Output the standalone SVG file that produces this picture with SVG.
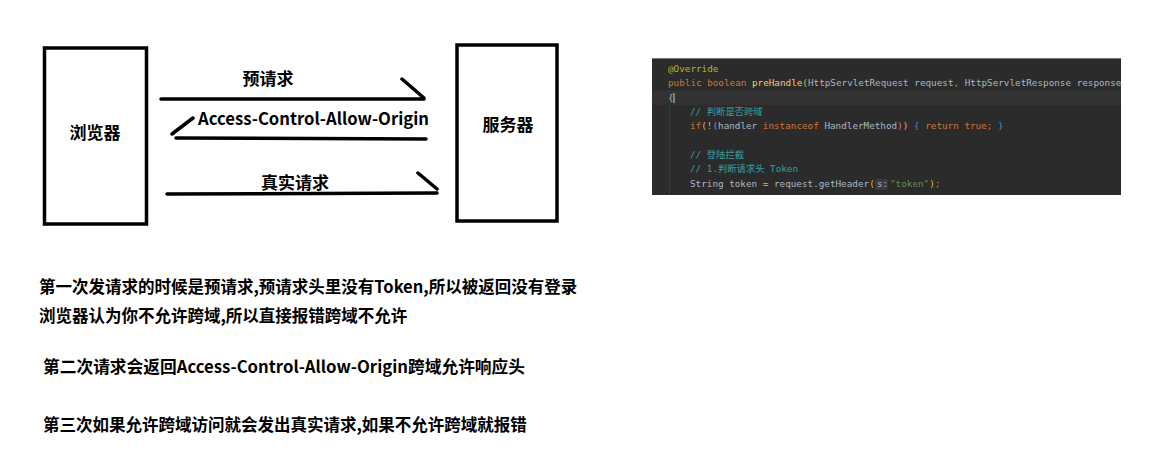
<svg xmlns="http://www.w3.org/2000/svg" width="1170" height="468" viewBox="0 0 1170 468">
<style>
.box{fill:#fff;stroke:#000;stroke-width:3.5}
.ln{stroke:#000;stroke-width:3.5;stroke-linecap:round;fill:none}
.lbl{font-family:"Noto Sans CJK SC","Open Sans",sans-serif;font-weight:bold;font-size:17px;fill:#000}
.note{font-family:"Noto Sans CJK SC","Open Sans",sans-serif;font-weight:bold;font-size:16.5px;fill:#000}
.code{font-family:"DejaVu Sans Mono","Noto Sans CJK SC",monospace;font-size:9.3px;fill:#a9b7c6}
.kw{fill:#cc7832}.an{fill:#bbb529}.fn{fill:#ffc66d}.cm{fill:#3a9ea6}.st{fill:#6a8759}.y{fill:#e8ba36}.p{fill:#c77dbb}.b{fill:#3d8fd1}
</style>
<defs>
<clipPath id="cc"><rect x="652" y="58" width="469" height="137"/></clipPath>
</defs>
<rect width="1170" height="468" fill="#fff"/>
<g id="browser">
<rect class="box" x="44.5" y="48" width="102" height="176"/>
<text class="lbl" x="95" y="139" text-anchor="middle">浏览器</text>
</g>
<g id="server">
<rect class="box" x="457" y="45" width="100" height="176"/>
<text class="lbl" x="508" y="131" text-anchor="middle">服务器</text>
</g>
<g id="connectors">
<path class="ln" d="M161 99 L424 99 M402 79 L424 98"/>
<path class="ln" d="M176 138 L426 139 M172 134 L193 118"/>
<path class="ln" d="M167 194 L437 193 M418 173 L437 189"/>
<text class="lbl" x="268" y="85" text-anchor="middle">预请求</text>
<text class="lbl" x="198" y="125" textLength="231" lengthAdjust="spacingAndGlyphs">Access-Control-Allow-Origin</text>
<text class="lbl" x="295" y="189" text-anchor="middle">真实请求</text>
</g>
<g id="code" clip-path="url(#cc)">
<rect x="652" y="58" width="469" height="137" fill="#2b2b2b"/>
<line x1="652" y1="58.5" x2="1121" y2="58.5" stroke="#777" stroke-width="1"/>
<rect x="652" y="91" width="469" height="14" fill="#323232"/>
<line x1="669.5" y1="106" x2="669.5" y2="195" stroke="#3c3c3c" stroke-width="1"/>
<text class="code an" x="668" y="72">@Override</text>
<text class="code" x="668" y="86"><tspan class="kw">public boolean </tspan><tspan class="fn">preHandle</tspan><tspan class="y">(</tspan>HttpServletRequest request<tspan class="kw">,</tspan> HttpServletResponse response<tspan class="kw">,</tspan></text>
<text class="code" x="668" y="101" fill="#b3b86b">{</text>
<line x1="674" y1="93" x2="674" y2="103" stroke="#ccc" stroke-width="1"/>
<text class="code cm" x="690" y="115">// 判断是否跨域</text>
<text class="code" x="690" y="129"><tspan class="kw">if</tspan><tspan class="y">(</tspan>!<tspan class="p">(</tspan>handler <tspan class="kw">instanceof</tspan> HandlerMethod<tspan class="p">)</tspan><tspan class="y">)</tspan> <tspan class="b">{</tspan><tspan class="kw"> return true;</tspan> <tspan class="b">}</tspan></text>
<text class="code cm" x="690" y="158">// 登陆拦截</text>
<text class="code cm" x="690" y="172">// 1.判断请求头 Token</text>
<text class="code" x="690" y="187">String token = request.getHeader<tspan class="y">(</tspan></text>
<rect x="875" y="179" width="13" height="11" rx="2" fill="#3b3b3b"/>
<text class="code" x="877" y="187" fill="#7a7a7a" font-size="7px">s:</text>
<text class="code" x="890" y="187"><tspan class="st">"token"</tspan><tspan class="y">)</tspan><tspan class="kw">;</tspan></text>
</g>
<g id="notes">
<text class="note" x="39" y="293">第一次发请求的时候是预请求,预请求头里没有Token,所以被返回没有登录</text>
<text class="note" x="39" y="322">浏览器认为你不允许跨域,所以直接报错跨域不允许</text>
<text class="note" x="43" y="373" textLength="482" lengthAdjust="spacingAndGlyphs">第二次请求会返回Access-Control-Allow-Origin跨域允许响应头</text>
<text class="note" x="43" y="431">第三次如果允许跨域访问就会发出真实请求,如果不允许跨域就报错</text>
</g>
</svg>
